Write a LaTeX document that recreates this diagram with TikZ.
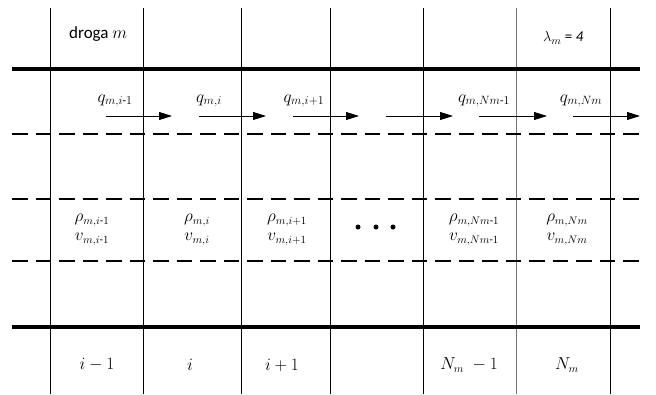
\documentclass[tikz,border=0pt]{standalone}
\usepackage{amsmath}
\usepackage{fontspec}
\setmainfont{Carlito}
\usetikzlibrary{arrows.meta}
\begin{document}
\begin{tikzpicture}[x=1pt,y=-1pt,
  vline/.style={line width=0.8pt,black},
  road/.style={line width=3.5pt,black},
  lane/.style={line width=1.6pt,black,dash pattern=on 15.5pt off 8pt},
  flow/.style={line width=0.8pt,-{Triangle[length=13pt,width=8pt]}},
  lbl/.style={inner sep=0pt,font=\fontsize{15}{17}\selectfont},
  qlbl/.style={inner sep=0pt,font=\fontsize{16.5}{18}\selectfont},
  slbl/.style={inner sep=0pt,font=\fontsize{16}{19}\selectfont,align=center},
  ilbl/.style={inner sep=0pt,font=\fontsize{16}{18}\selectfont},
  dot/.style={circle,fill=black,inner sep=0pt,minimum size=5pt}]
\useasboundingbox (0,0) rectangle (656,394);
\fill[white] (0,0) rectangle (656,394);
% vertical cell borders
\foreach \x/\n in {50/a,143/b,241/c,330/d,423/e,610/g}{
  \coordinate (t\n) at (\x,8); \coordinate (b\n) at (\x,394);
  \draw[vline] (t\n) -- (b\n);}
\coordinate (tf) at (516,8); \coordinate (bf) at (516,394);
\draw[vline,black!55] (tf) -- (bf);
% road edges and lanes
\coordinate (r1l) at (12,69);  \coordinate (r1r) at (640,69);
\coordinate (r2l) at (12,327); \coordinate (r2r) at (640,327);
\draw[road] (r1l) -- (r1r);
\draw[road] (r2l) -- (r2r);
\foreach \y/\n in {134/1,199/2,261/3}{
  \coordinate (l\n l) at (12,\y); \coordinate (l\n r) at (640,\y);
  \draw[lane] (l\n l) -- (l\n r);}
% top labels
\node[lbl,font=\fontsize{17}{19}\selectfont,anchor=west] (droga) at (69,34) {droga $m$};
\node[lbl,anchor=west] (lam) at (543,38) {$\lambda_m$ = $\mathit{4}$};
% flows
\foreach \s/\e/\n in {106/172/1,199/266/2,293/359/3,386/453/4,479/547/5,573/640/6}{
  \coordinate (fs\n) at (\s,116); \coordinate (fe\n) at (\e,116);
  \draw[flow] (fs\n) -- (fe\n);}
\node[qlbl] (q1) at (115,101) {$q_{m,i\text{-}1}$};
\node[qlbl] (q2) at (209,101) {$q_{m,i}$};
\node[qlbl] (q3) at (304,101) {$q_{m,i+1}$};
\node[qlbl] (q5) at (484,101) {$q_{m,Nm\text{-}1}$};
\node[qlbl] (q6) at (581,101) {$q_{m,Nm}$};
% cell states
\node[slbl] (c1) at (92,230) {$\rho_{m,i\text{-}1}$\\$v_{m,i\text{-}1}$};
\node[slbl] (c2) at (197,230) {$\rho_{m,i}$\\$v_{m,i}$};
\node[slbl] (c3) at (287,230) {$\rho_{m,i+1}$\\$v_{m,i+1}$};
\node[dot] (d1) at (358,227) {};
\node[dot] (d2) at (376,227) {};
\node[dot] (d3) at (393,227) {};
\node[slbl] (c5) at (474,230) {$\rho_{m,Nm\text{-}1}$\\$v_{m,Nm\text{-}1}$};
\node[slbl] (c6) at (567,230) {$\rho_{m,Nm}$\\$v_{m,Nm}$};
% cell indices
\node[ilbl] (i1) at (97,365) {$i-1$};
\node[ilbl] (i2) at (190,365) {$i$};
\node[ilbl] (i3) at (282,365) {$i+1$};
\node[ilbl] (i5) at (469,365) {$N_m\;-1$};
\node[ilbl] (i6) at (567,365) {$N_m$};
\end{tikzpicture}
\end{document}
